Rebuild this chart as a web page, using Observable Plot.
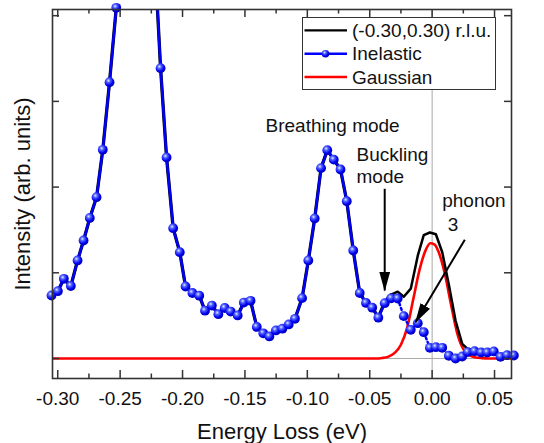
<!DOCTYPE html>
<html>
<head>
<meta charset="utf-8">
<script src="https://cdn.jsdelivr.net/npm/d3@7"></script>
<script src="https://cdn.jsdelivr.net/npm/@observablehq/plot@0.6"></script>
<style>
  html, body { margin: 0; padding: 0; background: #fff; }
  #wrap { position: relative; width: 544px; height: 443px; font-family: "Liberation Sans", Arial, sans-serif; }
</style>
</head>
<body>
<div id="wrap"></div>
<script>
// ---------- data ----------
const energy = [-0.3050, -0.2999, -0.2951, -0.2895, -0.2841, -0.2793, -0.2743, -0.2689, -0.2639, -0.2585,
  -0.2531, -0.2481, -0.2429, -0.2377, -0.2328, -0.2276, -0.2224, -0.2176, -0.2128, -0.2075,
  -0.2022, -0.1976, -0.1921, -0.1866, -0.1820, -0.1765, -0.1713, -0.1662, -0.1614, -0.1558,
  -0.1509, -0.1455, -0.1405, -0.1353, -0.1304, -0.1252, -0.1200, -0.1149, -0.1099, -0.1042,
  -0.0992, -0.0941, -0.0890, -0.0840, -0.0788, -0.0734, -0.0684, -0.0632, -0.0580, -0.0530,
  -0.0480, -0.0431, -0.0380, -0.0328, -0.0276, -0.0227, -0.0171, -0.0115, -0.0067, -0.0018,
  0.0030, 0.0081, 0.0134, 0.0188, 0.0241, 0.0286, 0.0340, 0.0393, 0.0442, 0.0494,
  0.0548, 0.0600, 0.0655];

const inelastic = [0.735, 0.785, 0.930, 0.846, 1.144, 1.377, 1.640, 1.882, 2.435, 3.224,
  4.092, 5.0, 5.6, 5.9, 5.8, 5.4, 4.715, 3.387, 2.345, 1.520,
  1.240, 0.840, 0.764, 0.733, 0.558, 0.618, 0.517, 0.589, 0.548, 0.502,
  0.653, 0.673, 0.368, 0.294, 0.257, 0.327, 0.348, 0.397, 0.463, 0.704,
  1.144, 1.634, 2.221, 2.431, 2.320, 2.205, 1.835, 1.260, 0.764, 0.648,
  0.593, 0.476, 0.645, 0.702, 0.700, 0.494, 0.335, 0.412, 0.307, 0.125,
  0.132, 0.125, 0.032, 0.000, 0.023, 0.074, 0.085, 0.070, 0.070, 0.082,
  0.020, 0.039, 0.035];

// (-0.30,0.30) r.l.u. total spectrum
const total = [0.735, 0.785, 0.930, 0.846, 1.144, 1.377, 1.640, 1.882, 2.435, 3.224,
  4.092, 5.0, 5.6, 5.9, 5.8, 5.4, 4.715, 3.387, 2.345, 1.520,
  1.240, 0.840, 0.764, 0.733, 0.558, 0.618, 0.517, 0.589, 0.548, 0.502,
  0.653, 0.673, 0.368, 0.294, 0.257, 0.327, 0.348, 0.397, 0.463, 0.704,
  1.144, 1.634, 2.221, 2.431, 2.320, 2.205, 1.835, 1.260, 0.764, 0.648,
  0.593, 0.479, 0.657, 0.745, 0.780, 0.720, 0.815, 1.200, 1.440, 1.470,
  1.450, 1.240, 0.860, 0.440, 0.170, 0.110, 0.100, 0.075, 0.070, 0.082,
  0.020, 0.039, 0.035];

// Gaussian (elastic) line
const gaussE = [-0.3042, -0.045, -0.040, -0.035, -0.030, -0.025, -0.020, -0.015, -0.010, -0.005,
  -0.0015, 0.002, 0.005, 0.010, 0.015, 0.020, 0.025, 0.030, 0.035, 0.040, 0.045, 0.0636];
const gaussI = [0, 0, 0.006, 0.022, 0.065, 0.16, 0.36, 0.70, 1.04, 1.27,
  1.345, 1.33, 1.25, 1.00, 0.64, 0.30, 0.11, 0.04, 0.012, 0.004, 0, 0];

const xMajor = [-0.30, -0.25, -0.20, -0.15, -0.10, -0.05, 0.00, 0.05];
const xMinor = [-0.275, -0.225, -0.175, -0.125, -0.075, -0.025, 0.025];
const yMajor = [0, 1, 2, 3, 4];

const annoText = ["Breathing mode", "Buckling", "mode", "phonon", "3"];
const annoX = [-0.1335, -0.0606, -0.0606, 0.0081, 0.0126];
const annoY = [2.641, 2.305, 2.051, 1.766, 1.485];

const arrowX1 = [-0.0380, 0.0262];
const arrowY1 = [1.980, 1.385];
const arrowX2 = [-0.0380, -0.0133];
const arrowY2 = [0.793, 0.424];

const seriesNames = ["(-0.30,0.30) r.l.u.", "Inelastic", "Gaussian"];

// ---------- layout ----------
const W = 544, H = 443;
const mL = 52, mR = 33, mT = 9, mB = 65;
const fw = W - mL - mR, fh = H - mT - mB;
const FONT = '"Liberation Sans", Arial, sans-serif';

const rows = energy.map((e, i) => ({e, inel: inelastic[i], tot: total[i], i}));
const gRows = gaussE.map((e, i) => ({e, g: gaussI[i]}));
const annos = annoText.map((t, i) => ({t, x: annoX[i], y: annoY[i]}));
const arrows = arrowX1.map((x1, i) => ({x1, y1: arrowY1[i], x2: arrowX2[i], y2: arrowY2[i]}));

const chart = Plot.plot({
  width: W, height: H,
  marginLeft: mL, marginRight: mR, marginTop: mT, marginBottom: mB,
  x: {domain: [-0.3042, 0.0636], axis: null},
  y: {domain: [-0.2334, 4.072], axis: null},
  style: {fontFamily: FONT, fontSize: "19px", background: "white", color: "black", overflow: "visible"},
  marks: [
    Plot.ruleY([0], {stroke: "#a8a8a8", strokeWidth: 1}),
    Plot.ruleX([0], {stroke: "#a8a8a8", strokeWidth: 1}),
    Plot.line(gRows, {x: "e", y: "g", stroke: "#ff0000", strokeWidth: 2.6, curve: "monotone-x", clip: true}),
    Plot.line(rows.filter(d => d.i <= 53), {x: "e", y: "tot", stroke: "#000", strokeWidth: 3.3, clip: true}),
    Plot.line(rows.filter(d => d.i >= 53), {x: "e", y: "tot", stroke: "#000", strokeWidth: 2.5, clip: true}),
    Plot.line(rows.filter(d => d.i <= 54), {x: "e", y: "inel", stroke: "#0000ff", strokeWidth: 2.5, clip: true}),
    Plot.line(rows.filter(d => d.i >= 54), {x: "e", y: "inel", stroke: "#0000ff", strokeWidth: 2.5, strokeDasharray: "2,3", clip: true}),
    Plot.dot(rows.filter(d => d.inel <= 4.2), {x: "e", y: "inel", r: 4.9, fill: "#0000ff", stroke: "none"}),
    Plot.link(arrows, {x1: "x1", y1: "y1", x2: "x2", y2: "y2", stroke: "#000", strokeWidth: 2}),
    Plot.text(annos, {x: "x", y: "y", text: "t", textAnchor: "start", lineAnchor: "bottom", fontSize: 19, fill: "#111"}),
    // inward ticks on all four sides
    Plot.tickX(xMajor, {x: d => d, insetTop: fh - 8, stroke: "#333", strokeWidth: 1.5}),
    Plot.tickX(xMinor, {x: d => d, insetTop: fh - 4.5, stroke: "#333", strokeWidth: 1.5}),
    Plot.tickX(xMajor, {x: d => d, insetBottom: fh - 8, stroke: "#333", strokeWidth: 1.5}),
    Plot.tickX(xMinor, {x: d => d, insetBottom: fh - 4.5, stroke: "#333", strokeWidth: 1.5}),
    Plot.tickY(yMajor, {y: d => d, insetRight: fw - 7, stroke: "#333", strokeWidth: 1.5}),
    Plot.tickY(yMajor, {y: d => d, insetLeft: fw - 7, stroke: "#333", strokeWidth: 1.5}),
    Plot.frame({stroke: "#333", strokeWidth: 1.6}),
    Plot.axisX(xMajor, {tickSize: 0, tickPadding: 12.5, tickFormat: d => d.toFixed(2), fontSize: 19, label: null, fill: "#111"}),
    Plot.text(["Energy Loss (eV)"], {text: d => d, frameAnchor: "bottom", dy: 60, lineAnchor: "bottom", fontSize: 22, fill: "#111"}),
    Plot.text(["Intensity (arb. units)"], {text: d => d, frameAnchor: "left", dx: -38, rotate: -90, lineAnchor: "top", textAnchor: "middle", fontSize: 22, fill: "#111"})
  ]
});

// defs: shaded ball gradient + filled arrow head
const svgNS = "http://www.w3.org/2000/svg";
const defs = document.createElementNS(svgNS, "defs");
defs.innerHTML = `
  <radialGradient id="ball" cx="0.38" cy="0.34" r="0.68">
    <stop offset="0" stop-color="#e8ecff"/>
    <stop offset="0.28" stop-color="#5566ff"/>
    <stop offset="0.7" stop-color="#0000f0"/>
    <stop offset="1" stop-color="#0000b0"/>
  </radialGradient>
  <marker id="ahead" markerUnits="userSpaceOnUse" viewBox="0 0 20 11" refX="19" refY="5.5"
          markerWidth="20" markerHeight="11" orient="auto">
    <path d="M0,0L20,5.5L0,11Z" fill="#000"/>
  </marker>`;
chart.insertBefore(defs, chart.firstChild);
chart.querySelectorAll('g[aria-label="dot"] circle').forEach(c => c.setAttribute("fill", "url(#ball)"));
chart.querySelectorAll('g[aria-label="link"] path').forEach(p => p.setAttribute("marker-end", "url(#ahead)"));

const wrap = document.getElementById("wrap");
chart.style.position = "absolute";
chart.style.left = "0px";
chart.style.top = "0px";
wrap.appendChild(chart);

// legend (inside the plot area, upper right)
const lw = 194, lh = 73;
const lg = d3.select(wrap).append("svg").attr("width", lw).attr("height", lh)
  .style("position", "absolute").style("left", "301.7px").style("top", "17.3px")
  .style("font-family", FONT);
lg.append("defs").html(`<radialGradient id="ball2" cx="0.38" cy="0.34" r="0.68">
    <stop offset="0" stop-color="#e8ecff"/><stop offset="0.28" stop-color="#5566ff"/>
    <stop offset="0.7" stop-color="#0000f0"/><stop offset="1" stop-color="#0000b0"/></radialGradient>`);
lg.append("rect").attr("x", 0.5).attr("y", 0.5).attr("width", lw - 1).attr("height", lh - 1)
  .attr("fill", "#fff").attr("stroke", "#333").attr("stroke-width", 1);
const legColors = ["#000", "#0000ff", "#ff0000"];
const rowY = [13.4, 36.7, 60];
seriesNames.forEach((name, i) => {
  lg.append("line").attr("x1", 2.5).attr("x2", 45).attr("y1", rowY[i]).attr("y2", rowY[i])
    .attr("stroke", legColors[i]).attr("stroke-width", 2.4);
  if (i === 1) lg.append("circle").attr("cx", 23.5).attr("cy", rowY[i]).attr("r", 3.8).attr("fill", "url(#ball2)");
  lg.append("text").attr("x", 50).attr("y", rowY[i] + 6.6).attr("font-size", 19).attr("fill", "#111").text(name);
});
</script>
</body>
</html>
